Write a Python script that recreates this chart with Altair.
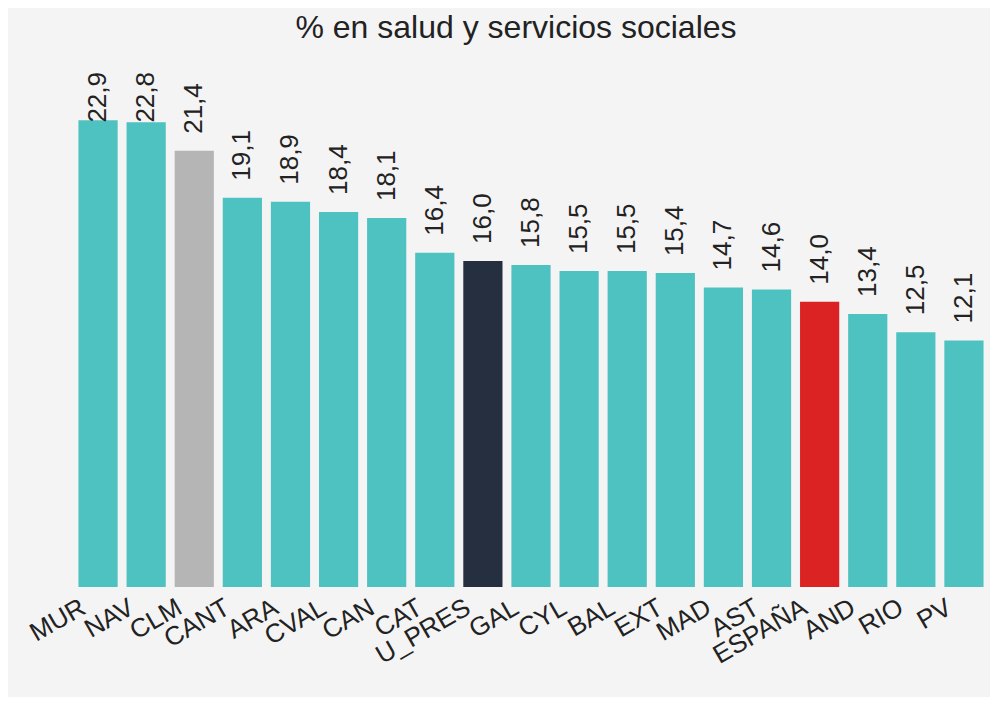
import altair as alt
import pandas as pd

regions = ["MUR", "NAV", "CLM", "CANT", "ARA", "CVAL", "CAN", "CAT", "U_PRES", "GAL",
           "CYL", "BAL", "EXT", "MAD", "AST", "ESPAÑA", "AND", "RIO", "PV"]
values = [22.9, 22.8, 21.4, 19.1, 18.9, 18.4, 18.1, 16.4, 16.0, 15.8,
          15.5, 15.5, 15.4, 14.7, 14.6, 14.0, 13.4, 12.5, 12.1]
TEAL, GRAY, NAVY, RED = "#4ec2c0", "#b5b5b5", "#262f3f", "#dc2323"
bar_colors = [TEAL, TEAL, GRAY, TEAL, TEAL, TEAL, TEAL, TEAL, NAVY, TEAL,
              TEAL, TEAL, TEAL, TEAL, TEAL, RED, TEAL, TEAL, TEAL]

df = pd.DataFrame({"region": regions, "value": values})

FONT = "Liberation Sans"
TXT = "#222222"

base = alt.Chart(df).encode(
    x=alt.X("region:N", sort=regions,
            scale=alt.Scale(paddingInner=0.185, paddingOuter=0.0925),
            axis=alt.Axis(title=None, labelAngle=330, labelAlign="right",
                          labelBaseline="alphabetic", labelFontSize=26, labelFont=FONT,
                          labelColor=TXT, labelPadding=25, labelOffset=-10.5,
                          labelOverlap=False, labelBound=False, labelFlush=False,
                          labelLimit=0, ticks=False, domain=False, grid=False)),
)

bars = base.mark_bar().encode(
    y=alt.Y("value:Q", scale=alt.Scale(domain=[0, 25.12], nice=False, zero=True), axis=None),
    color=alt.Color("region:N", scale=alt.Scale(domain=regions, range=bar_colors), legend=None),
)

labels = base.transform_calculate(
    label_y="min(datum.value, 21.95)",
    label="replace(format(datum.value, '.1f'), '.', ',')",
).mark_text(angle=270, align="left", baseline="middle", dx=17,
            fontSize=26, font=FONT, color=TXT).encode(
    y=alt.Y("label_y:Q", scale=alt.Scale(domain=[0, 25.12], nice=False, zero=True), axis=None),
    text="label:N",
)

chart = alt.layer(bars, labels).properties(
    width=914, height=512,
    title=alt.TitleParams("% en salud y servicios sociales", fontSize=32, font=FONT,
                          fontWeight="normal", color=TXT, anchor="middle", dx=-15,
                          offset=27),
    autosize=alt.AutoSizeParams(type="none"),
    padding={"left": 66, "top": 67, "right": 2, "bottom": 110},
    background="#f4f4f4",
).configure_view(stroke=None)

chart.save("out.html", embed_options={"renderer": "svg", "actions": False})
